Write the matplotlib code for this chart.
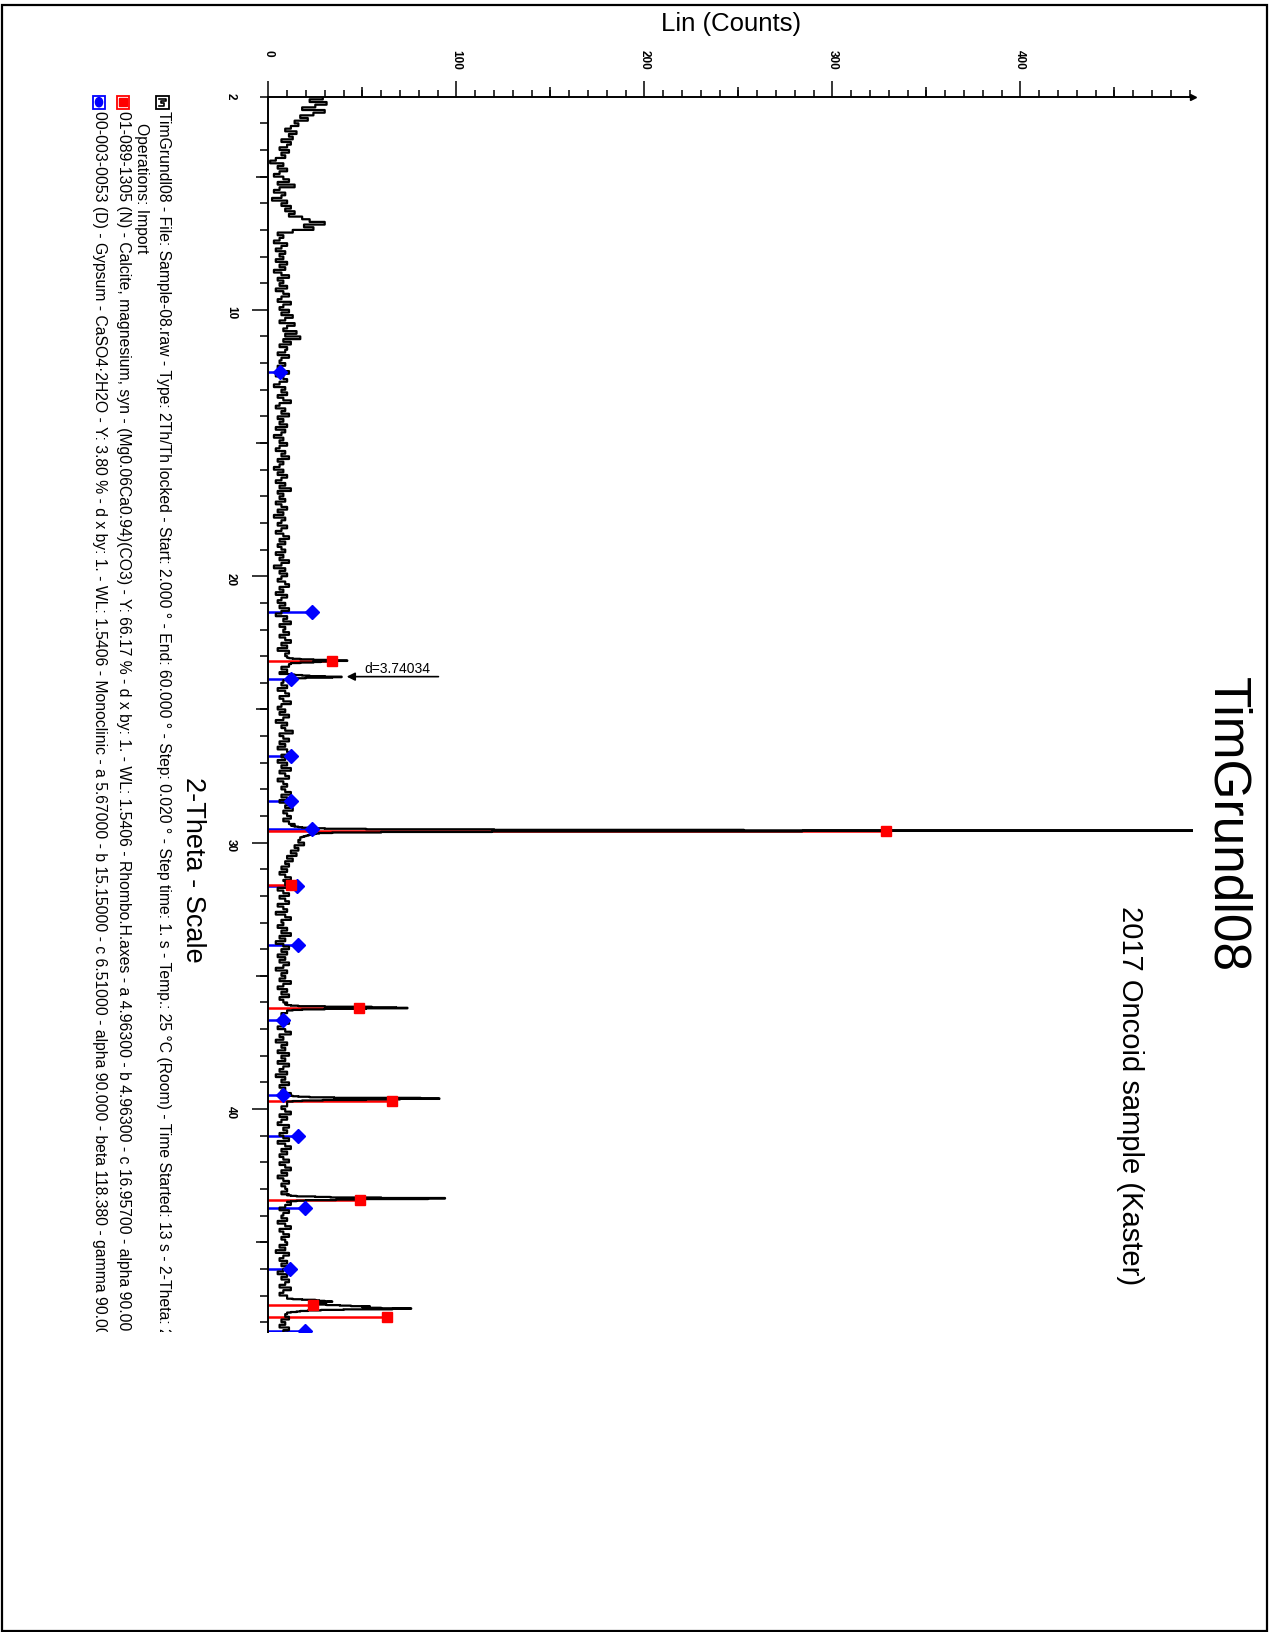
import numpy as np
import matplotlib
matplotlib.use("Agg")
import matplotlib.pyplot as plt
from matplotlib.patches import Rectangle, Circle
from matplotlib.lines import Line2D
from matplotlib.transforms import Bbox, TransformedBbox
from matplotlib.ticker import MultipleLocator, FixedLocator, FuncFormatter, NullFormatter

plt.rcParams["font.family"] = ["Liberation Sans", "DejaVu Sans"]

W, H = 1271, 1633


def fx(px):
    return px / W


def fy(py):
    return 1.0 - py / H


# ---------------------------------------------------------------- data
# scan counts on a 0.1 deg 2-theta grid, 2.0 .. 48.4 deg
scan_start = 2.0
scan_step = 0.1
scan_counts = [
    29, 22, 31, 25, 18, 30, 24, 17, 21, 14,   # 2
    16, 12, 9, 15, 11, 13, 7, 12, 10, 6,      # 3
    11, 7, 9, 4, 1, 8, 5, 10, 6, 3,           # 4
    8, 11, 5, 14, 6, 3, 9, 7, 2, 10,          # 5
    7, 12, 9, 14, 11, 18, 22, 30, 19, 24,     # 6
    13, 5, 8, 6, 3, 10, 7, 4, 9, 6,           # 7
    8, 4, 10, 6, 9, 3, 7, 11, 5, 8,           # 8
    6, 10, 4, 8, 11, 7, 5, 12, 8, 6,          # 9
    11, 7, 13, 9, 6, 14, 10, 8, 15, 9,        # 10
    17, 8, 12, 6, 10, 9, 5, 11, 7, 6,         # 11
    9, 5, 7, 11, 4, 8, 10, 6, 3, 9,           # 12
    7, 10, 5, 8, 12, 6, 4, 9, 7, 11,          # 13
    5, 8, 6, 10, 4, 9, 7, 3, 8, 6,            # 14
    10, 6, 4, 9, 7, 11, 5, 8, 6, 3,           # 15
    8, 5, 10, 7, 4, 9, 6, 12, 5, 8,           # 16
    6, 9, 4, 7, 10, 5, 8, 3, 9, 7,            # 17
    5, 10, 7, 4, 8, 11, 6, 9, 5, 7,           # 18
    9, 4, 8, 6, 11, 7, 3, 9, 6, 10,           # 19
    7, 5, 9, 11, 6, 8, 4, 10, 7, 5,           # 20
    9, 6, 11, 7, 4, 10, 8, 12, 6, 9,          # 21
    8, 11, 6, 9, 12, 7, 10, 5, 11, 9,         # 22
    10, 12, 8, 11, 7, 10, 6, 9, 12, 8,        # 23
    7, 10, 5, 9, 11, 6, 8, 12, 7, 5,          # 24
    9, 6, 11, 8, 4, 10, 7, 9, 13, 6,          # 25
    8, 11, 6, 9, 5, 10, 12, 7, 9, 5,          # 26
    10, 7, 12, 6, 9, 11, 5, 8, 10, 7,         # 27
    9, 12, 7, 10, 6, 11, 9, 13, 8, 10,        # 28
    12, 8, 11, 14, 9, 13, 14, 16, 17, 16,     # 29
    19, 14, 16, 12, 15, 10, 13, 9, 11, 7,     # 30
    10, 6, 9, 12, 8, 12, 10, 5, 8, 11,        # 31
    6, 9, 11, 5, 8, 10, 4, 9, 12, 7,          # 32
    8, 5, 10, 7, 12, 6, 9, 4, 8, 11,          # 33
    7, 10, 5, 9, 6, 11, 8, 4, 10, 7,          # 34
    9, 6, 12, 8, 5, 10, 7, 11, 6, 8,          # 35
    10, 7, 9, 9, 7, 8, 6, 11, 8, 5,           # 36
    9, 12, 6, 8, 4, 10, 7, 9, 5, 11,          # 37
    7, 9, 5, 11, 8, 6, 10, 4, 9, 7,           # 38
    11, 6, 9, 7, 12, 10, 12, 12, 10, 7,       # 39
    9, 12, 6, 10, 7, 5, 11, 8, 10, 6,         # 40
    8, 11, 5, 9, 12, 7, 10, 6, 8, 11,         # 41
    6, 9, 12, 7, 10, 5, 8, 11, 7, 9,          # 42
    10, 7, 11, 11, 12, 12, 9, 6, 11, 8,       # 43
    7, 10, 5, 9, 12, 6, 8, 11, 7, 9,          # 44
    10, 6, 9, 4, 11, 8, 6, 10, 7, 12,         # 45
    8, 5, 10, 7, 11, 9, 6, 12, 8, 6,          # 46
    10, 7, 12, 14, 13, 15, 12, 9, 11, 7,      # 47
    9, 6, 11, 8, 10,                          # 48
]

# reflections recorded at the full 0.02 deg step
peak_step = 0.02
peak_starts = [23.06, 23.67, 29.34, 31.44, 36.06, 39.48, 43.22, 47.10]
peak_profiles = [
    [11, 13, 17, 24, 33, 42, 36, 28, 24, 17, 12],
    [11, 14, 18, 22, 30, 39, 34, 20, 14, 11],
    [12, 13, 14, 16, 18, 22, 30, 52, 120, 253, 492, 284, 119, 60, 34, 27,
     25, 24, 22, 21, 20, 19, 18],
    [9, 11, 14, 12, 9],
    [9, 10, 12, 16, 30, 55, 68, 74, 52, 30, 18, 13, 10],
    [10, 13, 16, 22, 35, 81, 91, 70, 52, 29, 18, 13, 10],
    [10, 12, 15, 25, 33, 60, 94, 85, 50, 36, 20, 15, 12, 10],
    [10, 13, 18, 25, 27, 30, 34, 31, 28, 24, 24, 26, 31, 38, 44, 54, 50,
     53, 60, 76, 66, 40, 28, 21, 17, 15, 12, 10],
]

# reference patterns (stick positions, stick heights in counts)
calcite_2theta = [23.19, 29.56, 31.60, 36.21, 39.69, 43.42, 47.35, 47.80]
calcite_counts = [33.7, 328.5, 12.0, 48.0, 65.6, 49.0, 23.6, 63.0]
gypsum_2theta = [12.33, 21.33, 23.85, 26.74, 28.43, 29.49, 31.62, 33.83,
                 36.66, 39.47, 41.01, 43.72, 46.00, 48.34]
gypsum_counts = [6.0, 23.0, 12.0, 12.0, 12.0, 23.0, 15.0, 16.0,
                 7.6, 8.0, 16.0, 19.3, 11.8, 19.3]

wavelength = 1.5406
d_value = 3.74034
d_label = "d=3.74034"
d_arrow_counts = [41.7, 90.5]
d_text_counts = 51.2

x_ticks_major = [0, 100, 200, 300, 400]
y_ticks_major = [10, 20, 30, 40]

# ---------------------------------------------------------------- assemble scan
grid_tt = scan_start + scan_step * np.arange(len(scan_counts))
grid_c = np.asarray(scan_counts, float)
keep = np.ones(grid_tt.size, bool)
tt_parts, c_parts = [], []
for s, prof in zip(peak_starts, peak_profiles):
    e = s + peak_step * (len(prof) - 1)
    keep &= ~((grid_tt >= s - 0.011) & (grid_tt <= e + 0.011))
    tt_parts.append(s + peak_step * np.arange(len(prof)))
    c_parts.append(np.asarray(prof, float))
all_tt = np.concatenate([grid_tt[keep]] + tt_parts)
all_c = np.concatenate([grid_c[keep]] + c_parts)
order = np.argsort(all_tt)
all_tt, all_c = all_tt[order], all_c[order]

# ---------------------------------------------------------------- figure
fig = plt.figure(figsize=(W / 100, H / 100), dpi=100)
fig.patch.set_facecolor("white")

X0 = 268.3          # pixel column of zero counts
PX_PER_COUNT = 1.88
Y_TOP, Y_BOT = 97.7, 1333.3
PX_PER_DEG = 26.64
c_max = 492.0
tt_end = 2.0 + (Y_BOT - Y_TOP) / PX_PER_DEG

ax = fig.add_axes([fx(X0), fy(Y_BOT), c_max * PX_PER_COUNT / W, (Y_BOT - Y_TOP) / H])
ax.set_xlim(0, c_max)
ax.set_ylim(tt_end, 2.0)
ax.set_facecolor("none")

for side in ("right", "bottom"):
    ax.spines[side].set_visible(False)
for side in ("top", "left"):
    ax.spines[side].set_linewidth(1.4)

tick_font = dict(labelsize=8.5)

# counts axis along the top
ax.xaxis.tick_top()
ax.xaxis.set_major_locator(FixedLocator(x_ticks_major))
ax.xaxis.set_minor_locator(MultipleLocator(10))
ax.tick_params(axis="x", which="major", direction="out", length=11.5, width=1.1,
               pad=22.5, labelrotation=270, **tick_font)
ax.tick_params(axis="x", which="minor", direction="out", length=5, width=1.1)
plt.setp(ax.get_xticklabels(), va="top", fontweight="bold")

sec_x = ax.secondary_xaxis("top")
sec_x.xaxis.set_major_locator(FixedLocator([50, 150, 250, 350, 450]))
sec_x.xaxis.set_major_formatter(NullFormatter())
sec_x.tick_params(direction="out", length=7.2, width=1.1)
sec_x.spines["top"].set_visible(False)

# 2-theta axis down the left side
ax.yaxis.set_major_locator(FixedLocator(y_ticks_major))
ax.yaxis.set_minor_locator(MultipleLocator(1))
ax.yaxis.set_minor_formatter(FuncFormatter(lambda v, p: "2" if abs(v - 2) < 1e-6 else ""))
ax.tick_params(axis="y", which="major", direction="out", length=11.5, width=1.1,
               pad=11, labelrotation=270, **tick_font)
ax.tick_params(axis="y", which="minor", direction="out", length=5.5, width=1.1,
               pad=17, labelrotation=270, labelleft=True, **tick_font)
plt.setp(ax.get_yticklabels(which="both"), fontweight="bold")

sec_y = ax.secondary_yaxis("left")
sec_y.yaxis.set_major_locator(FixedLocator([5, 15, 25, 35, 45]))
sec_y.yaxis.set_major_formatter(NullFormatter())
sec_y.tick_params(direction="out", length=9, width=1.1)
sec_y.spines["left"].set_visible(False)

ax.plot([1], [1], transform=ax.transAxes, marker=">", ms=4, color="black",
        clip_on=False, zorder=6)

# reference sticks
ax.hlines(gypsum_2theta, 0, gypsum_counts, colors="#0000ff", lw=1.8, zorder=2)
ax.hlines(calcite_2theta, 0, calcite_counts, colors="#ff0000", lw=1.8, zorder=2)

# measured scan
ax.plot(all_c, all_tt, color="black", lw=1.6, drawstyle="steps-pre", zorder=3)

ax.plot(gypsum_counts, gypsum_2theta, ls="none", marker="D", ms=7,
        color="#0000ff", zorder=4)
ax.plot(calcite_counts, calcite_2theta, ls="none", marker="s", ms=6.5,
        color="#ff0000", zorder=4)

# d-spacing marker
d_tt = 2 * np.degrees(np.arcsin(wavelength / (2 * d_value)))
ax.annotate("", xy=(d_arrow_counts[0], d_tt), xytext=(d_arrow_counts[1], d_tt),
            arrowprops=dict(arrowstyle="-|>", color="black", lw=1.2,
                            mutation_scale=12, shrinkA=0, shrinkB=0), zorder=5)
ax.annotate(d_label, xy=(d_text_counts, d_tt), xytext=(0, 1.5),
            textcoords="offset points", fontsize=10, ha="left", va="bottom")

# ---------------------------------------------------------------- titles
fig.text(fx(731), fy(24), "Lin (Counts)", fontsize=18.5, ha="center", va="center")
fig.text(fx(1227), fy(825), "TimGrundl08", fontsize=37, rotation=270,
         ha="center", va="center")
fig.text(fx(1130), fy(1096), "2017 Oncoid sample (Kaster)", fontsize=21,
         rotation=270, ha="center", va="center")
fig.text(fx(193), fy(870), "2-Theta - Scale", fontsize=19.5, rotation=270,
         ha="center", va="center")

# ---------------------------------------------------------------- legend block
clip = TransformedBbox(Bbox.from_extents(0, fy(Y_BOT), 1, 1), fig.transFigure)
legend_lines = [
    (163, 111, "TimGrundl08 - File: Sample-08.raw - Type: 2Th/Th locked - Start: 2.000 ° - "
               "End: 60.000 ° - Step: 0.020 ° - Step time: 1. s - Temp.: 25 °C (Room) - "
               "Time Started: 13 s - 2-Theta: 2.000 ° - Theta: 1.000 °"),
    (141, 123, "Operations: Import"),
    (123, 111, "01-089-1305 (N) - Calcite, magnesium, syn - (Mg0.06Ca0.94)(CO3) - Y: 66.17 % - "
               "d x by: 1. - WL: 1.5406 - Rhombo.H.axes - a 4.96300 - b 4.96300 - "
               "c 16.95700 - alpha 90.000 - beta 90.000 - gamma 120.000"),
    (99, 111, "00-003-0053 (D) - Gypsum - CaSO4·2H2O - Y: 3.80 % - d x by: 1. - WL: 1.5406 - "
              "Monoclinic - a 5.67000 - b 15.15000 - c 6.51000 - alpha 90.000 - "
              "beta 118.380 - gamma 90.000"),
]
for xp, yp, txt in legend_lines:
    t = fig.text(fx(xp), fy(yp), txt, fontsize=11.3, rotation=270,
                 rotation_mode="anchor", ha="left", va="center")
    t.set_clip_box(clip)
    t.set_clip_on(True)

icon = 12.5
def box(cx, color):
    fig.patches.append(Rectangle((fx(cx - icon / 2), fy(109.5)), icon / W, icon / H,
                                 transform=fig.transFigure, fill=False, ec=color, lw=1.3))

box(162.5, "black")
fig.lines.append(Line2D([fx(v) for v in (159, 166, 166, 161, 161, 164, 164, 159)],
                        [fy(v) for v in (99.5, 99.5, 101.5, 101.5, 104, 104, 107, 107)],
                        transform=fig.transFigure, color="black", lw=1.2))
box(123, "#ff0000")
fig.patches.append(Rectangle((fx(119), fy(107)), 8 / W, 8 / H, transform=fig.transFigure,
                             color="#ff0000"))
box(99, "#0000ff")
fig.patches.append(Circle((fx(99), fy(103.2)), 3.6 / W, transform=fig.transFigure,
                          color="#0000ff"))

# page frame
fig.patches.append(Rectangle((fx(2), fy(1632)), (1267 - 2) / W, (1632 - 5.5) / H,
                             transform=fig.transFigure, fill=False, ec="black", lw=1.6))

fig.savefig("out.png", dpi=100, facecolor="white")
